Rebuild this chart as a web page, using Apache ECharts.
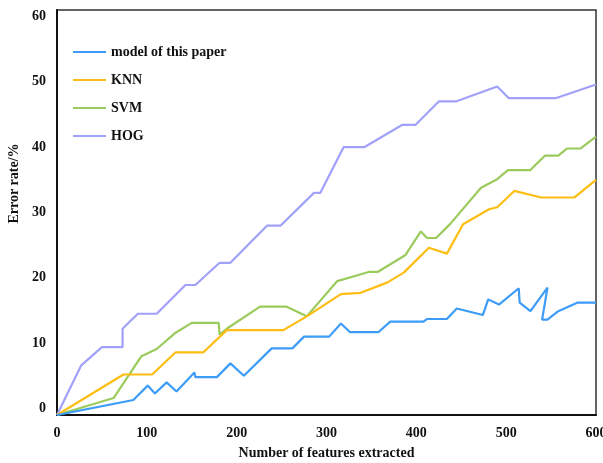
<!DOCTYPE html>
<html>
<head>
<meta charset="utf-8">
<script src="https://cdn.jsdelivr.net/npm/echarts@6/dist/echarts.min.js"></script>
<style>
  html, body { margin: 0; padding: 0; background: #fff; }
  #chart { width: 603px; height: 463px; }
</style>
</head>
<body>
<div id="chart"></div>
<script>
// series names and tick values
const seriesNames = ['model of this paper', 'KNN', 'SVM', 'HOG']
const xTicks = [0, 100, 200, 300, 400, 500, 600]
const yTicks = [0, 10, 20, 30, 40, 50, 60]

// [features, error rate]
const modelPoints = [
  [0, -1], [85, 1.3], [101, 3.5], [109, 2.3], [122, 4], [133, 2.6], [153, 5.5], [154, 4.8],
  [178, 4.8], [193, 6.9], [208, 5], [239, 9.2], [262, 9.2], [275, 11], [303, 11], [316, 13],
  [326, 11.7], [358, 11.7], [371, 13.3], [408, 13.3], [412, 13.7], [434, 13.7], [445, 15.3],
  [474, 14.3], [480, 16.7], [492, 15.9], [514, 18.4], [515, 16.2], [527, 14.9], [546, 18.5],
  [540, 13.6], [546, 13.6], [558, 14.9], [579, 16.2], [600, 16.2]
]
const knnPoints = [
  [0, -1], [74, 5.2], [106, 5.2], [132, 8.6], [163, 8.6], [189, 12], [252, 12], [278, 14.1],
  [316, 17.5], [338, 17.7], [368, 19.3], [386, 20.8], [414, 24.6], [434, 23.7], [452, 28.2],
  [481, 30.5], [490, 30.8], [509, 33.3], [539, 32.3], [576, 32.3], [600, 35]
]
const svmPoints = [
  [0, -1], [63, 1.6], [94, 8], [111, 9.1], [132, 11.6], [150, 13.1], [180, 13.1], [181, 11.3],
  [191, 12.4], [226, 15.6], [255, 15.6], [278, 14.1], [312, 19.5], [347, 20.9], [357, 20.9],
  [388, 23.5], [405, 27.1], [412, 26.1], [422, 26.1], [438, 28.3], [472, 33.8], [490, 35.1],
  [502, 36.5], [527, 36.5], [543, 38.7], [558, 38.7], [568, 39.8], [583, 39.8], [600, 41.6]
]
const hogPoints = [
  [0, -1], [27, 6.6], [50, 9.4], [73, 9.4], [73, 12.2], [90, 14.5], [111, 14.5], [143, 18.9],
  [154, 18.9], [181, 22.3], [193, 22.3], [234, 28], [249, 28], [286, 33], [293, 33], [319, 40],
  [342, 40], [384, 43.4], [399, 43.4], [425, 47], [444, 47], [490, 49.3], [503, 47.5],
  [555, 47.5], [600, 49.6]
]

const colors = ['#3d9cf7', '#fdbd12', '#9acb5c', '#a1a1fa']
const allPoints = [modelPoints, knnPoints, svmPoints, hogPoints]

const font = 'Liberation Serif, Times New Roman, serif'
const chart = echarts.init(document.getElementById('chart'))

const option = {
  animation: false,
  backgroundColor: '#fff',
  grid: {
    left: 57,
    right: 7,
    top: 10,
    bottom: 48,
    outerBoundsMode: 'none',
    show: true,
    borderColor: '#333',
    borderWidth: 1.5
  },
  legend: {
    orient: 'vertical',
    left: 73,
    top: 45,
    padding: 0,
    icon: 'rect',
    itemWidth: 33,
    itemHeight: 2,
    itemGap: 14,
    data: seriesNames,
    textStyle: {
      fontFamily: font,
      fontWeight: 'bold',
      fontSize: 14,
      lineHeight: 14,
      color: '#111'
    }
  },
  xAxis: {
    type: 'value',
    min: 0,
    max: 600,
    interval: 100,
    name: 'Number of features extracted',
    nameLocation: 'middle',
    nameGap: 31,
    nameTextStyle: { fontFamily: font, fontWeight: 'bold', fontSize: 14, color: '#111' },
    axisLine: { show: true, onZero: false, lineStyle: { color: '#111', width: 2 } },
    axisTick: { show: false },
    splitLine: { show: false },
    axisLabel: {
      customValues: xTicks,
      margin: 11,
      fontFamily: font,
      fontWeight: 'bold',
      fontSize: 14,
      color: '#111'
    }
  },
  yAxis: {
    type: 'value',
    min: -1,
    max: 61,
    name: 'Error rate/%',
    nameLocation: 'middle',
    nameGap: 34,
    nameTextStyle: {
      fontFamily: font, fontWeight: 'bold', fontSize: 14, color: '#111',
      padding: [0, 0, 0, 58]
    },
    axisLine: { show: true, onZero: false, lineStyle: { color: '#111', width: 2 } },
    axisTick: { show: false },
    splitLine: { show: false },
    axisLabel: {
      customValues: yTicks,
      margin: 11,
      fontFamily: font,
      fontWeight: 'bold',
      fontSize: 14,
      color: '#111'
    }
  },
  series: seriesNames.map((name, i) => ({
    name: name,
    type: 'line',
    data: allPoints[i],
    symbol: 'none',
    color: colors[i],
    lineStyle: { color: colors[i], width: 2.2 },
    z: 10 - i
  }))
}

chart.setOption(option)
</script>
</body>
</html>
